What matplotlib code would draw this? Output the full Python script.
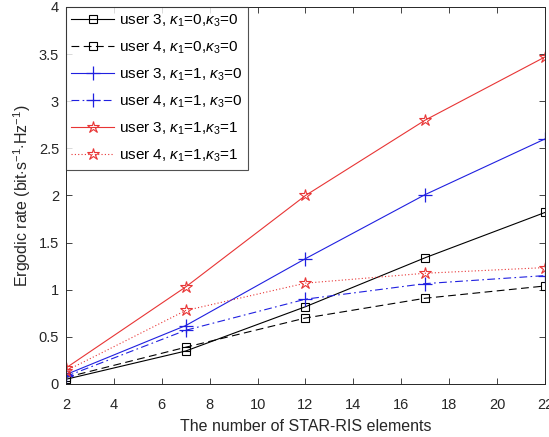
import matplotlib
matplotlib.use("Agg")
import matplotlib.pyplot as plt
from matplotlib.ticker import FuncFormatter

plt.rcParams['font.family'] = ['Liberation Sans', 'DejaVu Sans']
plt.rcParams['mathtext.fontset'] = 'custom'
plt.rcParams['mathtext.it'] = 'Liberation Sans:italic'
plt.rcParams['mathtext.rm'] = 'Liberation Sans'

# number of STAR-RIS elements
elements = [2, 7, 12, 17, 22]

# ergodic rates
u3_k0_k0 = [0.05, 0.35, 0.82, 1.34, 1.82]
u4_k0_k0 = [0.07, 0.39, 0.70, 0.91, 1.04]
u3_k1_k0 = [0.10, 0.62, 1.33, 2.01, 2.60]
u4_k1_k0 = [0.08, 0.57, 0.90, 1.065, 1.15]
u3_k1_k1 = [0.17, 1.03, 2.00, 2.80, 3.47]
u4_k1_k1 = [0.14, 0.78, 1.07, 1.175, 1.235]

labels = [
    'user 3, $\\kappa_1$=0,$\\kappa_3$=0',
    'user 4, $\\kappa_1$=0,$\\kappa_3$=0',
    'user 3, $\\kappa_1$=1, $\\kappa_3$=0',
    'user 4, $\\kappa_1$=1, $\\kappa_3$=0',
    'user 3, $\\kappa_1$=1,$\\kappa_3$=1',
    'user 4, $\\kappa_1$=1,$\\kappa_3$=1',
]

fig = plt.figure(figsize=(5.49, 4.37), dpi=100)
ax = fig.add_axes([0.1202, 0.1213, 0.8725, 0.8627])

blue = '#2020e0'
red = '#e83535'
lw = 0.8
ax.plot(elements, u3_k0_k0, color='black', ls='-', lw=lw, marker='s', ms=6,
        mfc='none', mew=0.8, label=labels[0])
ax.plot(elements, u4_k0_k0, color='black', ls=(0, (7, 4)), lw=lw, marker='s', ms=6,
        mfc='none', mew=0.8, label=labels[1])
ax.plot(elements, u3_k1_k0, color=blue, ls='-', lw=lw, marker='+', ms=10,
        mew=0.9, label=labels[2])
ax.plot(elements, u4_k1_k0, color=blue, ls=(0, (7, 3, 1.5, 3)), lw=lw, marker='+',
        ms=10, mew=0.9, label=labels[3])
ax.plot(elements, u3_k1_k1, color=red, ls='-', lw=lw, marker='*', ms=9,
        mfc='none', mew=0.8, label=labels[4])
ax.plot(elements, u4_k1_k1, color=red, ls=(0, (1, 2)), lw=lw, marker='*', ms=9,
        mfc='none', mew=0.8, label=labels[5])

ax.set_xlim(2, 22)
ax.set_ylim(0, 4)
ax.set_xticks(range(2, 23, 2))
ax.set_yticks([i * 0.5 for i in range(9)])
ax.yaxis.set_major_formatter(FuncFormatter(lambda v, p: f'{v:g}'))
ax.tick_params(direction='in', top=True, right=True, labelsize=10.5,
               colors='#262626', length=4, width=0.6, pad=5)
ax.tick_params(axis='x', pad=10)
for s in ax.spines.values():
    s.set_linewidth(0.7)
    s.set_color('#262626')

ax.set_xlabel('The number of STAR-RIS elements', fontsize=11.5, color='#262626',
              labelpad=5)
ax.set_ylabel('Ergodic rate (bit$\\cdot$s$^{-1}$$\\cdot$Hz$^{-1}$)', fontsize=11.5,
              color='#262626', labelpad=4)

leg = ax.legend(loc='upper left', fontsize=11, frameon=True, fancybox=False,
                edgecolor='#262626', borderaxespad=0, handlelength=2.8,
                labelspacing=0.7, borderpad=0.35, handletextpad=0.35)
leg.get_frame().set_linewidth(0.8)

fig.savefig('out.png', dpi=100)
